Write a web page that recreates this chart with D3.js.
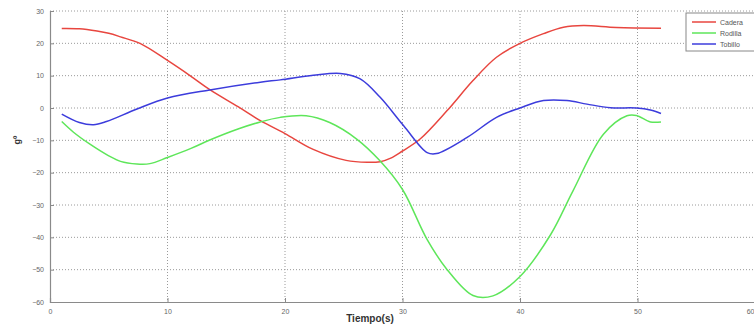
<!DOCTYPE html>
<html><head><meta charset="utf-8">
<script src="https://cdn.jsdelivr.net/npm/d3@7"></script>
<style>body{margin:0;background:#fff;}svg{display:block;}</style>
</head><body>
<svg id="c" width="754" height="327"></svg>
<script>
const xTicks = [0,10,20,30,40,50,60];
const yTicks = [30,20,10,0,-10,-20,-30,-40,-50,-60];
const seriesNames = ["Cadera","Rodilla","Tobillo"];
const seriesColors = ["#e8463f","#5ee65a","#3c3cdc"];

const caderaX = [1,2.5,4,5,6,7.7,10,12,13.6,16,17.9,20,22.4,25.2,27,28.1,29,30,31.5,33.8,36,38,40,42,43.7,45.4,48.2,52];
const caderaY = [24.6,24.5,23.8,23.1,22,19.9,14.7,9.8,5.7,0.4,-3.9,-7.9,-12.8,-16.2,-16.8,-16.6,-15.5,-13.3,-9.6,-0.8,8.5,15.7,20,23,25,25.5,24.9,24.7];

const rodillaX = [1,2,3.4,5,6,7.4,8.5,10,12,13.6,16,17.9,19.6,21.8,23.8,26.1,28.1,30,32.1,33.8,36,37.7,40,42.6,44.5,47.1,49.1,49.9,51.1,52];
const rodillaY = [-4.2,-7.5,-11.2,-14.8,-16.5,-17.3,-17.2,-15.3,-12.5,-9.9,-6.5,-4.3,-2.9,-2.4,-4.5,-9.6,-16.4,-25.2,-40.7,-50,-58,-58.1,-52.1,-39.2,-25.7,-8.1,-2.4,-2.3,-4.3,-4.3];

const tobilloX = [1,2.5,3.7,4.8,7.4,10,13.6,17.9,19.6,22.4,24.7,26.4,28.1,30.1,32.1,32.9,35.5,38,40,42,44,45.7,47.7,49.9,51.1,52];
const tobilloY = [-1.9,-4.5,-5.2,-4.2,-0.3,3.1,5.6,8,8.7,10.1,10.7,9,3.3,-5.5,-13.8,-14.1,-9.1,-2.9,0,2.3,2.3,1.2,0.1,0,-0.6,-1.7];

const svg = d3.select("#c");
const L = 50, R = 755, T = 11, B = 302;
const x = d3.scaleLinear().domain([0,60]).range([L,R]);
const y = d3.scaleLinear().domain([-60,30]).range([B,T]);

// grid
const g = svg.append("g");
g.selectAll(".gx").data(xTicks.slice(1)).join("line")
  .attr("x1",d=>x(d)).attr("x2",d=>x(d)).attr("y1",T).attr("y2",B)
  .attr("stroke","#9a9a9a").attr("stroke-width",1).attr("stroke-dasharray","1,2");
g.selectAll(".gy").data(yTicks.slice(0,-1)).join("line")
  .attr("x1",L).attr("x2",R).attr("y1",d=>y(d)).attr("y2",d=>y(d))
  .attr("stroke","#9a9a9a").attr("stroke-width",1).attr("stroke-dasharray","1,2");

// axes
const xAxis = d3.axisBottom(x).tickValues(xTicks).tickSize(-4).tickPadding(7).tickFormat(d3.format("d"));
const yAxis = d3.axisLeft(y).tickValues(yTicks).tickSize(-4).tickPadding(6).tickFormat(d3.format("d"));
const ax = svg.append("g").attr("transform",`translate(0,${B})`).call(xAxis);
const ay = svg.append("g").attr("transform",`translate(${L},0)`).call(yAxis);
[ax,ay].forEach(a=>{
  a.select(".domain").attr("stroke","#8a8a8a").attr("stroke-width",1.2);
  a.selectAll(".tick line").attr("stroke","#8a8a8a");
  a.selectAll(".tick text").attr("fill","#666").attr("font-size","7px").attr("font-family","Liberation Sans, Arial, sans-serif");
});
ax.selectAll(".tick text").filter(d=>d===60).attr("text-anchor","end").attr("dx","-1");

// lines
const series = [[caderaX,caderaY],[rodillaX,rodillaY],[tobilloX,tobilloY]];
const line = d3.line().x(d=>x(d[0])).y(d=>y(d[1])).curve(d3.curveCatmullRom.alpha(0.5));
series.forEach((s,i)=>{
  const pts = s[0].map((v,j)=>[v,s[1][j]]);
  svg.append("path").attr("d",line(pts)).attr("fill","none")
    .attr("stroke",seriesColors[i]).attr("stroke-width",1.5);
});

// labels
svg.append("text").attr("x",370).attr("y",322).attr("text-anchor","middle")
  .attr("font-family","Liberation Sans, Arial, sans-serif").attr("font-weight","bold")
  .attr("font-size","10px").attr("fill","#333").text("Tiempo(s)");
svg.append("text").attr("transform","translate(20,140) rotate(-90)").attr("text-anchor","middle")
  .attr("font-family","Liberation Sans, Arial, sans-serif").attr("font-weight","bold")
  .attr("font-size","9px").attr("fill","#333").text("gº");

// legend
const lg = svg.append("g");
lg.append("rect").attr("x",686).attr("y",13).attr("width",80).attr("height",38)
  .attr("fill","#fff").attr("stroke","#888").attr("stroke-width",1);
seriesNames.forEach((n,i)=>{
  const yy = 22 + i*11;
  lg.append("line").attr("x1",692).attr("x2",716).attr("y1",yy).attr("y2",yy)
    .attr("stroke",seriesColors[i]).attr("stroke-width",1.5);
  lg.append("text").attr("x",720).attr("y",yy+2.5).attr("font-size","7px")
    .attr("font-family","Liberation Sans, Arial, sans-serif").attr("fill","#555").text(n);
});
</script>
</body></html>
